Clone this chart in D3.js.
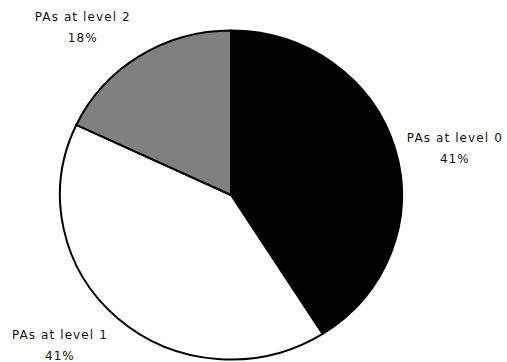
<!DOCTYPE html>
<html>
<head>
<meta charset="utf-8">
<script src="https://cdn.jsdelivr.net/npm/d3@7/dist/d3.min.js"></script>
<style>
  html, body { margin: 0; padding: 0; background: #fff; }
  svg { display: block; }
  text { font-family: "DejaVu Sans", Verdana, sans-serif; font-size: 12px; fill: #111; letter-spacing: 1.1px; }
</style>
</head>
<body>
<svg id="chart" width="507" height="362"></svg>
<script>
const categories = ["PAs at level 0", "PAs at level 1", "PAs at level 2"];
const values = [41, 41, 18];
const percentLabels = ["41%", "41%", "18%"];
const colors = ["#000000", "#ffffff", "#808080"];

const W = 507, H = 362;
const cx = 231, cy = 195, ry = 164.5, rx = 171;
const sx = rx / ry;

const svg = d3.select("#chart");
const data = categories.map((c, i) => ({ name: c, value: values[i], pct: percentLabels[i], color: colors[i] }));

const pie = d3.pie().value(d => d.value).sort(null);
const arcs = pie(data);
const arc = d3.arc().innerRadius(0).outerRadius(ry);

const g = svg.append("g").attr("transform", `translate(${cx},${cy}) scale(${sx},1)`);
g.selectAll("path").data(arcs).join("path")
  .attr("d", arc)
  .attr("fill", d => d.data.color)
  .attr("stroke", "#000")
  .attr("stroke-width", 2)
  .attr("stroke-linejoin", "round")
  .attr("vector-effect", "non-scaling-stroke");

// labels: placed along mid-angle direction, with small nudges
const labelR = 230;
const nudges = [[3, 11], [-19, -29], [-25, 20]];
const lab = svg.append("g");
arcs.forEach((a, i) => {
  const mid = (a.startAngle + a.endAngle) / 2;
  const x = cx + Math.sin(mid) * labelR + nudges[i][0];
  const y = cy - Math.cos(mid) * labelR + nudges[i][1];
  const t = lab.append("text").attr("text-anchor", "middle").attr("x", x).attr("y", y);
  t.append("tspan").attr("x", x).attr("y", y).text(a.data.name);
  t.append("tspan").attr("x", x).attr("y", y + 21).text(a.data.pct);
});
</script>
</body>
</html>
